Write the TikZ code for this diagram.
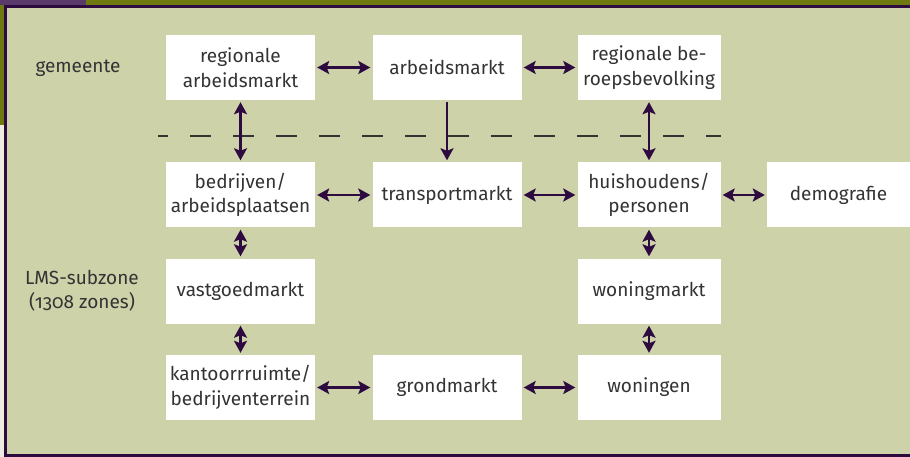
\documentclass[tikz,border=0pt]{standalone}
\usepackage{fontspec}
\setmainfont{Fira Sans}[Numbers=OldStyle]
\usetikzlibrary{arrows.meta}
\definecolor{beige}{HTML}{CDD2A9}
\definecolor{olivebar}{HTML}{6E7A10}
\definecolor{topviolet}{HTML}{5A3A6A}
\definecolor{frameviolet}{HTML}{2E0B3E}
\definecolor{arrowviolet}{HTML}{2D0B40}
\definecolor{sidegrey}{HTML}{ECECE2}
\definecolor{textgrey}{HTML}{333333}

\begin{document}
\begin{tikzpicture}[x=1pt,y=-1pt,>/.tip={Stealth[length=12pt,width=13pt,inset=2.5pt]},
	box/.style={fill=white,minimum width=149pt,minimum height=65pt,align=center,inner sep=0pt},
	link/.style={<->,draw=arrowviolet,line width=2.5pt,shorten <=2pt,shorten >=2pt},
	font=\fontsize{19}{24.5}\selectfont,text=textgrey]
	% frame and background
	\useasboundingbox (0,0) rectangle (910,457);
	\fill[olivebar] (0,0) rectangle (910,5);
	\fill[topviolet] (0,0) rectangle (86,5);
	\fill[olivebar] (0,5) rectangle (4,125);
	\fill[sidegrey] (0,125) rectangle (4,457);
	\fill[frameviolet] (4,5) rectangle (910,457);
	\fill[beige] (7,8) rectangle (910,454);
	% level border
	\draw[textgrey,line width=1.3pt,dash pattern=on 21pt off 22pt,dash phase=11pt] (158,136) -- (721,136);
	% level labels
	\node (gem) at (78,68) {gemeente};
	\node[align=center] (lms) at (82,291) {LMS-subzone\\(1308 zones)};
	% markets
	\node[box] (regarb) at (240.5,67.5) {regionale\\arbeidsmarkt};
	\node[box] (arb) at (447,67.5) {arbeidsmarkt};
	\node[box,minimum width=143pt] (regbev) at (649,67.5) {regionale be-\\roepsbevolking};
	\node[box] (bedr) at (240.5,195) {bedrijven/\\arbeidsplaatsen};
	\node[box] (transp) at (447,195) {transportmarkt};
	\node[box,minimum width=143pt] (huish) at (649,195) {huishoudens/\\personen};
	\node[box,minimum width=143pt] (demo) at (838.5,195) {demografie};
	\node[box] (vastg) at (240.5,291) {vastgoedmarkt};
	\node[box,minimum width=143pt] (woningm) at (649,291) {woningmarkt};
	\node[box] (kantoor) at (240.5,387.5) {kantoorrruimte/\\bedrijventerrein};
	\node[box] (grond) at (447,387.5) {grondmarkt};
	\node[box,minimum width=143pt] (woningen) at (649,387.5) {woningen};
	% links
	\draw[link] (regarb) -- (arb);
	\draw[link] (arb) -- (regbev);
	\draw[link] (regarb) -- (bedr);
	\draw[link,->] (arb) -- (transp);
	\draw[link] (regbev) -- (huish);
	\draw[link] (bedr) -- (transp);
	\draw[link] (transp) -- (huish);
	\draw[link] (huish) -- (demo);
	\draw[link] (bedr) -- (vastg);
	\draw[link] (huish) -- (woningm);
	\draw[link] (vastg) -- (kantoor);
	\draw[link] (woningm) -- (woningen);
	\draw[link] (kantoor) -- (grond);
	\draw[link] (grond) -- (woningen);
\end{tikzpicture}
\end{document}
